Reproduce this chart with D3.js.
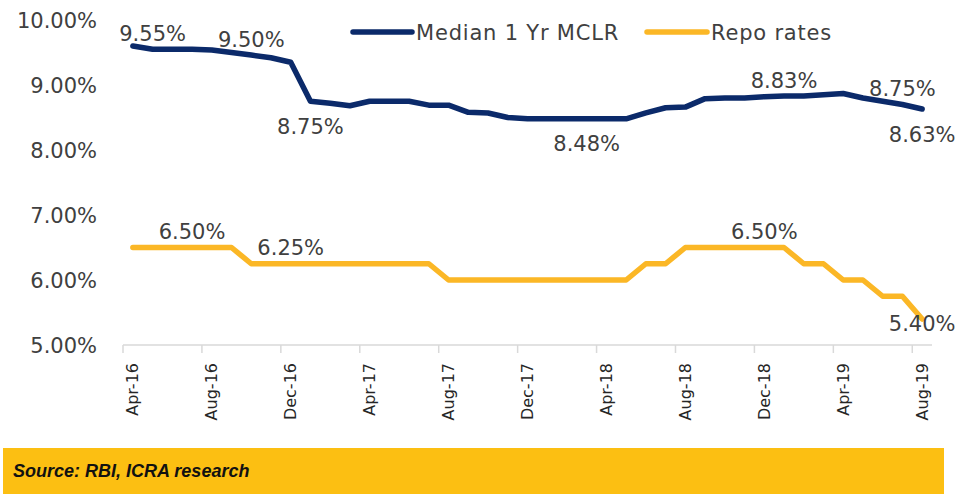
<!DOCTYPE html>
<html>
<head>
<meta charset="utf-8">
<script src="https://cdn.jsdelivr.net/npm/d3@7"></script>
<style>
  body { margin: 0; background: #fff; }
  svg { display: block; font-family: "DejaVu Sans", sans-serif; }
</style>
</head>
<body>
<div id="chart"></div>
<script>
// months on the category axis, Apr-16 .. Aug-19
var months = ["Apr-16","May-16","Jun-16","Jul-16","Aug-16","Sep-16","Oct-16","Nov-16","Dec-16","Jan-17",
  "Feb-17","Mar-17","Apr-17","May-17","Jun-17","Jul-17","Aug-17","Sep-17","Oct-17","Nov-17",
  "Dec-17","Jan-18","Feb-18","Mar-18","Apr-18","May-18","Jun-18","Jul-18","Aug-18","Sep-18",
  "Oct-18","Nov-18","Dec-18","Jan-19","Feb-19","Mar-19","Apr-19","May-19","Jun-19","Jul-19","Aug-19"];

// median 1 yr MCLR, %
var mclr = [9.60,9.55,9.55,9.55,9.54,9.50,9.46,9.42,9.35,8.75,
  8.72,8.68,8.75,8.75,8.75,8.69,8.69,8.58,8.57,8.50,
  8.48,8.48,8.48,8.48,8.48,8.48,8.57,8.65,8.66,8.79,
  8.80,8.80,8.82,8.83,8.83,8.85,8.87,8.80,8.75,8.70,8.63];

// repo rate, %
var repo = [6.50,6.50,6.50,6.50,6.50,6.50,6.25,6.25,6.25,6.25,
  6.25,6.25,6.25,6.25,6.25,6.25,6.00,6.00,6.00,6.00,
  6.00,6.00,6.00,6.00,6.00,6.00,6.25,6.25,6.50,6.50,
  6.50,6.50,6.50,6.50,6.25,6.25,6.00,6.00,5.75,5.75,5.40];

// data labels: [month, text, side]
var mclrLabels = [["May-16","9.55%","up"],["Oct-16","9.50%","up"],["Jan-17","8.75%","down"],
  ["Mar-18","8.48%","down"],["Jan-19","8.83%","up"],["Jul-19","8.75%","up"],["Aug-19","8.63%","down"]];
var repoLabels = [["Jul-16","6.50%","up"],["Dec-16","6.25%","up"],["Dec-18","6.50%","up"],["Aug-19","5.40%","mid"]];

var yTicks = [5,6,7,8,9,10];
var tickEvery = 4;
var seriesNames = ["Median 1 Yr MCLR","Repo rates"];

var W = 958, H = 500;
var navy = "#0b2a6a", gold = "#fbb726", textCol = "#404040";

var svg = d3.select("#chart").append("svg").attr("width", W).attr("height", H);

var x = d3.scaleBand().domain(months).range([123, 932]).padding(0);
var y = d3.scaleLinear().domain([5, 10]).range([345, 20]);
var cx = function(m) { return x(m) + x.bandwidth() / 2; };

//Y axis labels only, no line
svg.append("g").selectAll("text").data(yTicks).enter().append("text")
  .attr("x", 97).attr("y", function(d) { return y(d); })
  .attr("dy", "0.36em").attr("text-anchor", "end")
  .attr("font-size", 21).attr("fill", textCol)
  .text(function(d) { return d3.format(".2f")(d) + "%"; });

//X axis line and ticks between categories
var axisG = svg.append("g");
axisG.append("line").attr("x1", 123).attr("x2", 932).attr("y1", 345).attr("y2", 345)
  .attr("stroke", "#d9d9d9").attr("stroke-width", 1.5);
var tickMonths = months.filter(function(d, i) { return i % tickEvery === 0; });
axisG.selectAll(".tick").data(tickMonths).enter().append("line")
  .attr("x1", function(d) { return x(d); }).attr("x2", function(d) { return x(d); })
  .attr("y1", 345).attr("y2", 353).attr("stroke", "#d9d9d9").attr("stroke-width", 1.5);
axisG.selectAll(".lbl").data(tickMonths).enter().append("text")
  .attr("transform", function(d) { return "translate(" + cx(d) + ",363) rotate(-90)"; })
  .attr("text-anchor", "end").attr("dy", "0.35em")
  .attr("font-size", 16).attr("fill", "#262626")
  .text(function(d) { return d; });

//Lines
var line = d3.line().x(function(d, i) { return cx(months[i]); }).y(function(d) { return y(d); });
[[repo, gold], [mclr, navy]].forEach(function(s) {
  svg.append("path").datum(s[0]).attr("d", line)
    .attr("fill", "none").attr("stroke", s[1]).attr("stroke-width", 5.5)
    .attr("stroke-linejoin", "round").attr("stroke-linecap", "round");
});

//Data labels
var labelShift = { up: -8.5, down: 32.5, mid: 11.5 };
function addLabels(list, vals) {
  svg.append("g").selectAll("text").data(list).enter().append("text")
    .attr("x", function(d) { return cx(d[0]); })
    .attr("y", function(d) { return y(vals[months.indexOf(d[0])]) + labelShift[d[2]]; })
    .attr("text-anchor", "middle").attr("font-size", 21).attr("fill", textCol)
    .text(function(d) { return d[1]; });
}
addLabels(mclrLabels, mclr);
addLabels(repoLabels, repo);

//Legend
var legend = svg.append("g");
[[navy, 353, 412, 416], [gold, 647, 707, 711]].forEach(function(l, i) {
  legend.append("line").attr("x1", l[1]).attr("x2", l[2]).attr("y1", 32).attr("y2", 32)
    .attr("stroke", l[0]).attr("stroke-width", 5.5).attr("stroke-linecap", "round");
  legend.append("text").attr("x", l[3]).attr("y", 32).attr("dy", "0.36em")
    .attr("font-size", 21).attr("fill", textCol).attr("letter-spacing", 0.8)
    .text(seriesNames[i]);
});

//Source footer
svg.append("rect").attr("x", 3).attr("y", 448).attr("width", 941).attr("height", 46).attr("fill", "#fcbf12");
svg.append("text").attr("x", 13).attr("y", 477)
  .attr("font-family", "Liberation Sans, sans-serif").attr("font-style", "italic").attr("font-weight", "bold")
  .attr("font-size", 18).attr("fill", "#111")
  .text("Source: RBI, ICRA research");
</script>
</body>
</html>
